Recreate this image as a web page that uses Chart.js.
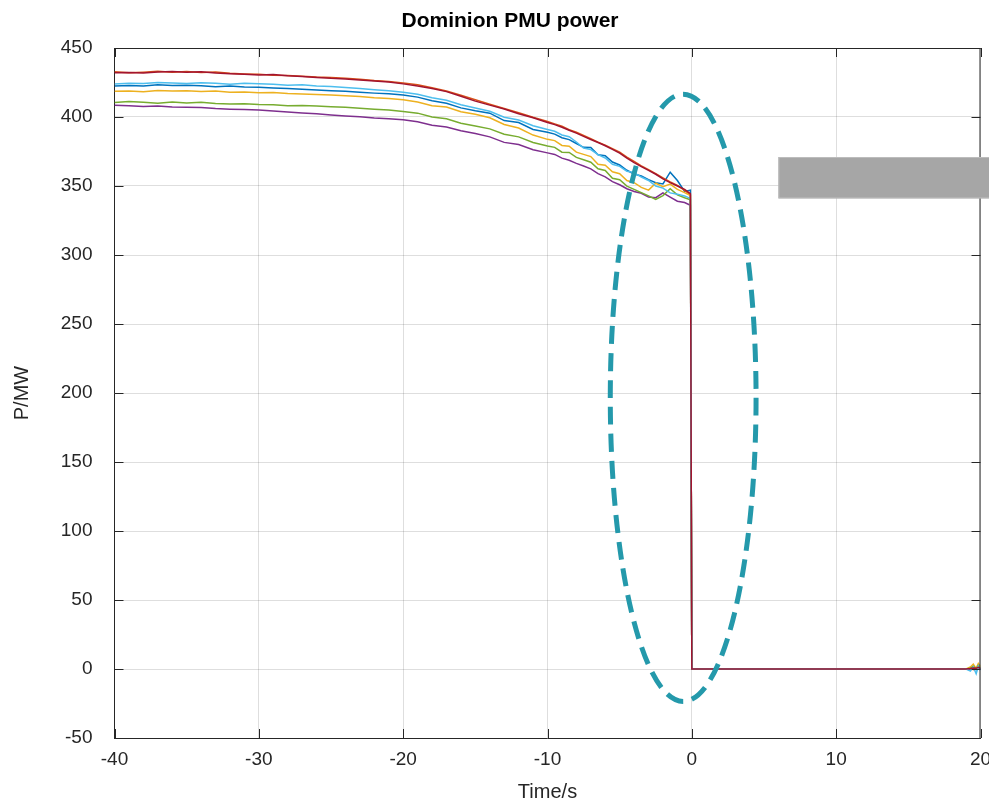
<!DOCTYPE html>
<html>
<head>
<meta charset="utf-8">
<script src="https://cdn.jsdelivr.net/npm/chart.js@4.4.1/dist/chart.umd.min.js"></script>
<style>
  html, body { margin: 0; padding: 0; background: #fff; }
  #wrap { width: 989px; height: 807px; }
</style>
</head>
<body>
<div id="wrap"><canvas id="myChart"></canvas></div>
<script>
// time axis (s)
const times = [
  -40, -39, -38, -37, -36, -35, -34, -33, -32, -31,
  -30, -29, -28, -27, -26, -25, -24, -23, -22, -21,
  -20, -19, -18, -17, -16, -15, -14, -13, -12, -11, -10,
  -9.5, -9, -8.5, -8, -7.5, -7, -6.5, -6, -5.5, -5,
  -4.5, -4, -3.5, -3, -2.5, -2, -1.5, -1, -0.5,
  -0.1, 0, 5, 10, 15, 19, 19.3, 19.5, 19.7, 19.85, 20
];

// PMU power per unit (MW), one array per line
const pBlue = [
  422.5, 422.9, 422.4, 423.3, 422.8, 423.0, 422.6, 421.9, 422.4, 421.8,
  421.5, 421.0, 420.6, 420.1, 419.5, 419.0, 418.6, 417.9, 417.3, 416.9,
  416.0, 414.4, 411.8, 409.9, 406.6, 404.5, 402.8, 397.4, 396.0, 391.0, 389.0,
  387.6, 385.0, 383.6, 380.8, 378.0, 377.9, 372.6, 371.9, 367.4, 365.2,
  361.4, 358.7, 357.2, 354.6, 352.4, 351.5, 360.0, 354.0, 346.0,
  347.0, 0, 0, 0, 0, 0, 0, 1.0, -0.5, 1.5, 0
];
const pOrange = [
  432.8, 432.0, 432.5, 433.2, 432.4, 433.0, 432.2, 432.6, 431.7, 431.2,
  430.9, 430.3, 430.0, 429.6, 428.9, 428.6, 428.0, 427.3, 426.4, 425.8,
  424.6, 423.3, 421.2, 418.9, 415.8, 412.5, 409.3, 406.2, 403.1, 399.8, 396.8,
  395.0, 393.3, 390.8, 388.9, 386.6, 384.2, 381.8, 379.6, 377.1, 374.5,
  371.0, 367.8, 364.6, 361.9, 358.9, 355.9, 353.0, 350.4, 346.8,
  343.5, 0, 0, 0, 0, 0, 0.6, -0.4, 1.0, 0.2, 0.8
];
const pYellow = [
  418.6, 418.9, 418.3, 419.2, 418.8, 419.0, 418.5, 418.8, 417.9, 418.2,
  417.5, 417.8, 417.0, 416.6, 416.3, 416.0, 415.4, 414.8, 413.9, 413.4,
  412.5, 410.9, 408.2, 407.3, 403.8, 402.0, 399.4, 394.6, 392.0, 386.9, 383.8,
  382.9, 379.4, 378.8, 374.5, 372.9, 371.3, 365.8, 365.0, 360.3, 358.9,
  354.0, 352.4, 349.0, 347.0, 352.0, 349.5, 351.4, 347.5, 345.2,
  343.0, 0, 0, 0, 0, 0, 1.5, 3.5, 0.5, 4.0, 2.0
];
const pPurple = [
  408.5, 408.1, 407.6, 407.9, 407.2, 407.0, 406.8, 406.1, 405.7, 405.4,
  405.0, 404.3, 403.6, 402.9, 402.3, 401.5, 400.8, 400.1, 399.3, 398.8,
  398.0, 396.5, 394.0, 392.7, 390.0, 388.0, 385.6, 381.6, 380.0, 376.3, 374.0,
  372.9, 370.2, 368.7, 366.4, 364.5, 362.4, 359.0, 356.6, 353.2, 350.9,
  348.0, 346.0, 344.7, 342.0, 341.5, 345.0, 342.0, 339.0, 338.0,
  336.0, 0, 0, 0, 0, 0, 0, 0.3, -0.2, 0.5, 0
];
const pGreen = [
  410.5, 411.2, 410.6, 410.0, 410.8, 410.2, 410.6, 409.8, 409.4, 409.6,
  409.0, 408.9, 408.2, 408.4, 407.9, 407.5, 407.0, 406.3, 405.6, 405.0,
  404.0, 402.8, 400.0, 398.7, 395.5, 393.5, 391.4, 387.5, 385.6, 381.5, 379.0,
  378.0, 374.5, 374.3, 370.7, 369.0, 367.2, 362.5, 361.3, 355.6, 354.5,
  349.9, 347.6, 345.2, 342.8, 340.3, 343.0, 348.0, 343.6, 341.5,
  340.0, 0, 0, 0, 0, 0, 0.5, 2.0, 0, 2.5, 1.0
];
const pLightBlue = [
  424.0, 424.5, 424.2, 425.0, 424.6, 424.3, 424.9, 424.4, 423.8, 424.5,
  424.1, 423.7, 423.0, 423.4, 422.5, 422.1, 421.4, 420.7, 419.8, 419.0,
  418.0, 416.5, 413.9, 412.2, 408.9, 406.5, 404.2, 399.8, 397.8, 393.7, 391.0,
  389.7, 387.0, 385.7, 381.9, 377.5, 376.4, 372.7, 370.3, 365.7, 364.2,
  360.7, 359.7, 356.5, 354.0, 350.0, 348.5, 345.0, 344.1, 342.8,
  341.0, 0, 0, 0, 0, 0, -1.5, 1.5, -3.5, 2.0, -1.0
];
const pDarkRed = [
  432.0, 432.3, 431.8, 432.6, 432.9, 432.5, 432.8, 431.9, 431.4, 431.0,
  430.5, 430.8, 429.9, 429.3, 428.7, 428.0, 427.6, 426.8, 426.1, 425.3,
  424.0, 422.5, 420.7, 418.4, 415.0, 411.5, 408.6, 405.8, 402.3, 399.4, 396.0,
  394.5, 392.6, 390.4, 388.3, 386.0, 383.7, 381.5, 379.2, 376.6, 373.8,
  370.2, 367.0, 364.1, 361.3, 358.5, 355.2, 352.4, 350.0, 347.6,
  344.5, 0, 0, 0, 0, 0, 0.3, 0.8, 0.5, 1.2, 0.5
];

const series = [pBlue, pOrange, pYellow, pPurple, pGreen, pLightBlue, pDarkRed];
const colors = ['#0072BD', '#D95319', '#EDB120', '#7E2F8E', '#77AC30', '#4DBEEE', '#A2142F'];

const xTicks = [-40, -30, -20, -10, 0, 10, 20];
const yTicks = [-50, 0, 50, 100, 150, 200, 250, 300, 350, 400, 450];

// annotations, in data units
const ring = { cx: -0.6, cy: 196.5, rx: 5.05, ry: 220 };
const hideBox = { x0: 6.0, x1: 20.7, y0: 341, y1: 371 };

const axisColor = '#262626';
const font = "'Liberation Sans', Arial, sans-serif";

const decor = {
  id: 'decor',
  afterDraw(chart) {
    const { ctx, chartArea: a, scales: { x, y } } = chart;
    ctx.save();
    // box + inward ticks (matlab style)
    ctx.strokeStyle = axisColor;
    ctx.lineWidth = 1;
    ctx.beginPath();
    ctx.moveTo(a.left, a.top + 0.5); ctx.lineTo(a.right, a.top + 0.5);
    ctx.moveTo(a.right - 0.5, a.top); ctx.lineTo(a.right - 0.5, a.bottom);
    xTicks.forEach(v => {
      const px = Math.round(x.getPixelForValue(v)) + 0.5;
      ctx.moveTo(px, a.bottom); ctx.lineTo(px, a.bottom - 9);
      ctx.moveTo(px, a.top); ctx.lineTo(px, a.top + 9);
    });
    yTicks.forEach(v => {
      const py = Math.round(y.getPixelForValue(v)) + 0.5;
      ctx.moveTo(a.left, py); ctx.lineTo(a.left + 9, py);
      ctx.moveTo(a.right, py); ctx.lineTo(a.right - 9, py);
    });
    ctx.stroke();

    // title
    ctx.fillStyle = '#000';
    ctx.font = 'bold 21px ' + font;
    ctx.textAlign = 'center';
    ctx.textBaseline = 'middle';
    ctx.fillText('Dominion PMU power', 510, 21);

    // dashed ellipse
    const cx = x.getPixelForValue(ring.cx), cy = y.getPixelForValue(ring.cy);
    const rx = x.getPixelForValue(ring.cx + ring.rx) - cx;
    const ry = cy - y.getPixelForValue(ring.cy + ring.ry);
    ctx.strokeStyle = '#2499AB';
    ctx.lineWidth = 5;
    ctx.setLineDash([18, 9]);
    ctx.beginPath();
    ctx.ellipse(cx, cy, rx, ry, 0, 0, Math.PI * 2);
    ctx.stroke();
    ctx.setLineDash([]);

    // gray box
    const bx0 = x.getPixelForValue(hideBox.x0), bx1 = x.getPixelForValue(hideBox.x1);
    const by0 = y.getPixelForValue(hideBox.y1), by1 = y.getPixelForValue(hideBox.y0);
    ctx.fillStyle = '#a6a6a6';
    ctx.fillRect(bx0, by0, bx1 - bx0, by1 - by0);
    ctx.strokeStyle = '#bcbcbc';
    ctx.lineWidth = 1;
    ctx.strokeRect(bx0 + 0.5, by0 + 0.5, bx1 - bx0, by1 - by0 - 1);
    ctx.restore();
  }
};

const ctx = document.getElementById('myChart').getContext('2d');

const powerChart = new Chart(ctx, {
  type: 'line',
  data: {
    datasets: series.map((s, i) => ({
      label: 'PMU ' + (i + 1),
      data: times.map((t, k) => ({ x: t, y: s[k] })),
      borderColor: colors[i],
      borderWidth: 1.5,
      pointRadius: 0,
      tension: 0,
      fill: false,
      order: series.length - i
    }))
  },
  options: {
    responsive: true,
    maintainAspectRatio: false,
    animation: false,
    layout: { padding: { left: 0, right: 0, top: 48, bottom: 0 } },
    plugins: {
      legend: { display: false },
      tooltip: { enabled: false },
      title: { display: false }
    },
    scales: {
      x: {
        type: 'linear',
        min: -40, max: 20,
        afterBuildTicks: s => { s.ticks = xTicks.map(v => ({ value: v })); },
        afterFit: s => { s.height = 69; s.paddingRight = 8.5; },
        grid: { color: 'rgba(0,0,0,0.13)', drawTicks: false },
        border: { color: axisColor, width: 1 },
        ticks: { color: axisColor, font: { family: font, size: 19 }, padding: 10, maxRotation: 0 },
        title: {
          display: true, text: 'Time/s', color: axisColor,
          font: { family: font, size: 20 }, padding: { top: 0, bottom: 3 }
        }
      },
      y: {
        type: 'linear',
        min: -50, max: 450,
        afterBuildTicks: s => { s.ticks = yTicks.map(v => ({ value: v })); },
        afterFit: s => { s.width = 114.5; },
        grid: { color: 'rgba(0,0,0,0.13)', drawTicks: false },
        border: { color: axisColor, width: 1 },
        ticks: { color: axisColor, font: { family: font, size: 19 }, padding: 22 },
        title: {
          display: true, text: 'P/MW', color: axisColor,
          font: { family: font, size: 20 }, padding: { top: 10, bottom: 0 }
        }
      }
    }
  },
  plugins: [decor]
});
</script>
</body>
</html>
